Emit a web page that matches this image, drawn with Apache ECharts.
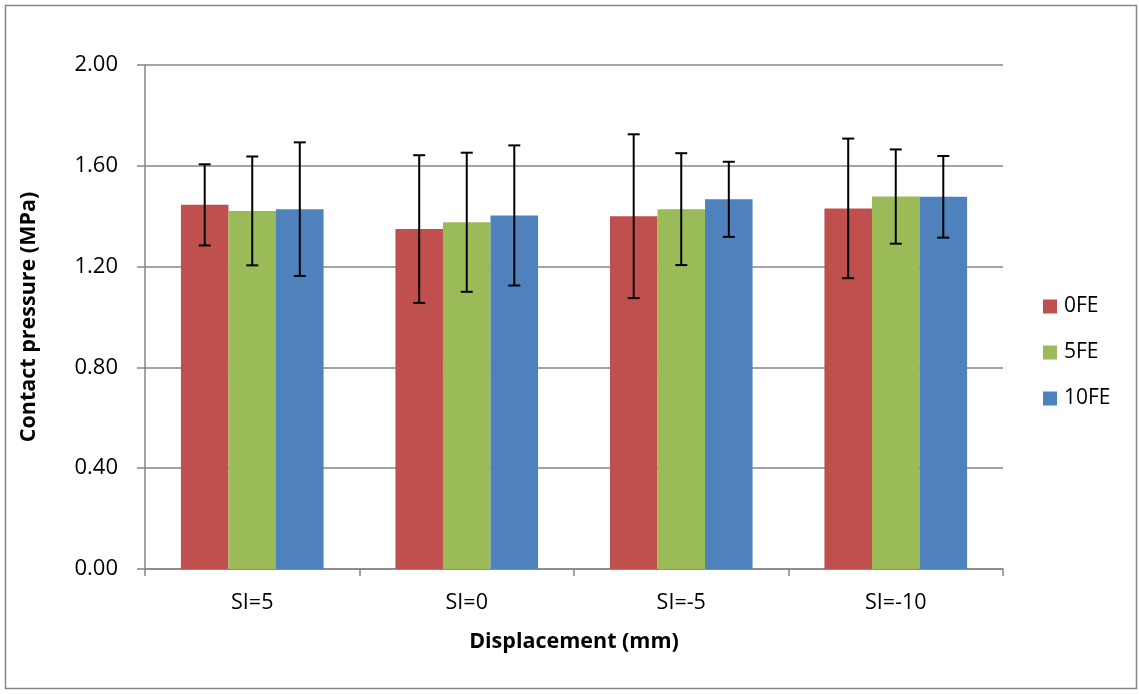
<!DOCTYPE html>
<html>
<head>
<meta charset="utf-8">
<script src="https://cdn.jsdelivr.net/npm/echarts@6/dist/echarts.min.js"></script>
<style>
  html, body { margin: 0; padding: 0; background: #fff; }
  #chart { width: 1139px; height: 694px; }
</style>
</head>
<body>
<div id="chart"></div>
<script>
// Contact pressure by displacement setting, three FE groups, with standard deviation
const categories = ['SI=5', 'SI=0', 'SI=-5', 'SI=-10'];
const seriesNames = ['0FE', '5FE', '10FE'];
const values0FE  = [1.445, 1.349, 1.400, 1.431];
const values5FE  = [1.421, 1.376, 1.428, 1.478];
const values10FE = [1.428, 1.403, 1.467, 1.477];
const err0FE  = [0.161, 0.293, 0.325, 0.277];
const err5FE  = [0.216, 0.276, 0.222, 0.187];
const err10FE = [0.265, 0.278, 0.149, 0.162];
const yTicks = [0, 0.4, 0.8, 1.2, 1.6, 2.0];

const colors = ['#C0504D', '#9BBB59', '#4F81BD'];
const values = [values0FE, values5FE, values10FE];
const errors = [err0FE, err5FE, err10FE];
const CAT_GAP = 0.335;
const FONT = '"Open Sans", Lato, sans-serif';

const chart = echarts.init(document.getElementById('chart'), null, { renderer: 'canvas' });

function errorSeries(idx) {
  const data = categories.map((c, i) => [i, values[idx][i] - errors[idx][i], values[idx][i] + errors[idx][i]]);
  return {
    type: 'custom',
    name: seriesNames[idx] + ' error',
    z: 10,
    renderItem: function (params, api) {
      const i = api.value(0);
      const lo = api.coord([i, api.value(1)]);
      const hi = api.coord([i, api.value(2)]);
      const bandW = api.size([1, 0])[0];
      const barW = bandW * (1 - CAT_GAP) / 3;
      const x = lo[0] + (idx - 1) * barW;
      const half = 6;
      const style = { stroke: '#000', lineWidth: 2 };
      return {
        type: 'group',
        children: [
          { type: 'line', shape: { x1: x, y1: hi[1], x2: x, y2: lo[1] }, style: style },
          { type: 'line', shape: { x1: x - half, y1: hi[1], x2: x + half, y2: hi[1] }, style: style },
          { type: 'line', shape: { x1: x - half, y1: lo[1], x2: x + half, y2: lo[1] }, style: style }
        ]
      };
    },
    encode: { x: 0, y: [1, 2] },
    data: data,
    silent: true
  };
}

const barSeries = seriesNames.map((name, idx) => ({
  type: 'bar',
  name: name,
  data: values[idx],
  itemStyle: { color: colors[idx] },
  barGap: '0%',
  barCategoryGap: (CAT_GAP * 100) + '%',
  emphasis: { disabled: true }
}));

chart.setOption({
  animation: false,
  backgroundColor: '#fff',
  textStyle: { fontFamily: FONT },
  graphic: [{
    type: 'rect',
    shape: { x: 5.5, y: 5.5, width: 1131, height: 683 },
    style: { fill: 'none', stroke: '#868686', lineWidth: 1.5 },
    silent: true
  }],
  grid: { left: 145, right: 136, top: 65, bottom: 125 },
  legend: {
    orient: 'vertical',
    left: 1038,
    top: 291,
    itemWidth: 14,
    itemHeight: 14,
    itemGap: 25,
    icon: 'rect',
    data: seriesNames,
    textStyle: { fontSize: 21, color: '#000', fontFamily: FONT, padding: [0, 0, 0, 2] }
  },
  xAxis: {
    type: 'category',
    data: categories,
    name: 'Displacement (mm)',
    nameLocation: 'middle',
    nameGap: 62,
    nameTextStyle: { fontSize: 21.5, fontWeight: 'bold', color: '#000', fontFamily: FONT },
    axisLine: { lineStyle: { color: '#868686', width: 1.5 } },
    axisTick: { show: true, length: 7, lineStyle: { color: '#868686', width: 1.5 } },
    axisLabel: { fontSize: 21.5, color: '#000', margin: 23, fontFamily: FONT }
  },
  yAxis: {
    type: 'value',
    min: 0,
    max: 2,
    interval: 0.4,
    name: 'Contact pressure (MPa)',
    nameLocation: 'middle',
    nameGap: 105,
    nameRotate: 90,
    nameTextStyle: { fontSize: 21.5, fontWeight: 'bold', color: '#000', fontFamily: FONT },
    axisLine: { show: true, lineStyle: { color: '#868686', width: 1.5 } },
    axisTick: { show: true, length: 8, lineStyle: { color: '#868686', width: 1.5 } },
    splitLine: { show: true, lineStyle: { color: '#868686', width: 1.5 } },
    axisLabel: {
      fontSize: 22, color: '#000', margin: 27, fontFamily: FONT,
      formatter: v => yTicks.includes(Math.round(v * 10) / 10) ? v.toFixed(2) : ''
    }
  },
  series: barSeries.concat([0, 1, 2].map(errorSeries))
});
</script>
</body>
</html>
